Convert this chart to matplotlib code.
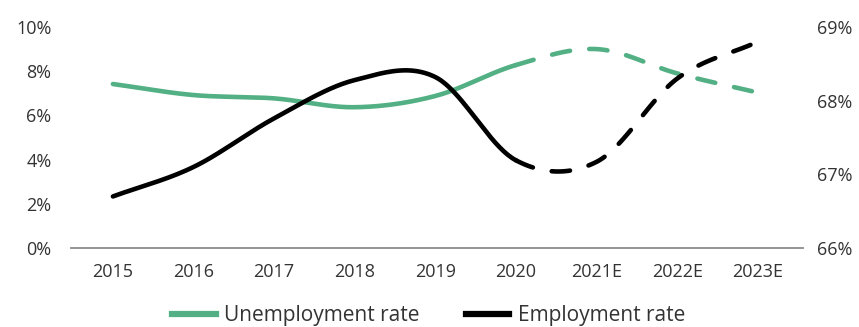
import numpy as np
import matplotlib.pyplot as plt
from matplotlib.lines import Line2D

years = ['2015', '2016', '2017', '2018', '2019', '2020', '2021E', '2022E', '2023E']
unemployment = [7.42, 6.92, 6.77, 6.37, 6.88, 8.28, 9.0, 7.9, 7.03]
employment = [66.70, 67.10, 67.76, 68.28, 68.32, 67.19, 67.17, 68.30, 68.80]
last_actual = 5  # index of 2020, forecasts after this

GREEN = '#52b084'
BLACK = '#000000'
TEXT = '#333333'


def smooth(x, y, n=40):
    # Excel-like smoothed line (Catmull-Rom through the points)
    x = np.asarray(x, float)
    y = np.asarray(y, float)
    xs, ys = [], []
    for i in range(len(x) - 1):
        m0 = (y[i + 1] - y[max(i - 1, 0)]) / (x[i + 1] - x[max(i - 1, 0)]) * (x[i + 1] - x[i])
        m1 = (y[min(i + 2, len(x) - 1)] - y[i]) / (x[min(i + 2, len(x) - 1)] - x[i]) * (x[i + 1] - x[i])
        t = np.linspace(0, 1, n)
        h00 = 2 * t**3 - 3 * t**2 + 1
        h10 = t**3 - 2 * t**2 + t
        h01 = -2 * t**3 + 3 * t**2
        h11 = t**3 - t**2
        xs.append(x[i] + t * (x[i + 1] - x[i]))
        ys.append(h00 * y[i] + h10 * m0 + h01 * y[i + 1] + h11 * m1)
    return np.concatenate(xs), np.concatenate(ys), n


def draw(ax, values, color):
    xs, ys, n = smooth(range(len(values)), values)
    cut = last_actual * n
    ax.plot(xs[:cut], ys[:cut], color=color, lw=3.3, solid_capstyle='round')
    ax.plot(xs[cut - 1:], ys[cut - 1:], color=color, lw=3.3,
            dashes=(4.0, 4.2), dash_capstyle='round')


plt.rcParams['font.family'] = ['Open Sans', 'DejaVu Sans']

fig = plt.figure(figsize=(8.59, 3.27), dpi=100)
ax = fig.add_axes([71 / 859, 79 / 327, 732 / 859, 221 / 327])
ax2 = ax.twinx()

draw(ax, unemployment, GREEN)
draw(ax2, employment, BLACK)

ax.set_xlim(-0.52, 8.56)
ax.set_ylim(0, 10)
ax2.set_ylim(66, 69)
ax.set_xticks(range(len(years)))
ax.set_xticklabels(years)
ax.set_yticks(range(0, 11, 2))
ax.set_yticklabels([f'{v}%' for v in range(0, 11, 2)])
ax2.set_yticks([66, 67, 68, 69])
ax2.set_yticklabels([f'{v}%' for v in [66, 67, 68, 69]])

for a in (ax, ax2):
    for s in ['top', 'left', 'right', 'bottom']:
        a.spines[s].set_visible(False)
    a.tick_params(length=0, labelsize=13, labelcolor=TEXT)
ax.spines['bottom'].set_visible(True)
ax.spines['bottom'].set_color('#8c8c8c')
ax.spines['bottom'].set_linewidth(1.3)
ax.tick_params(axis='y', pad=14)
ax.tick_params(axis='x', pad=11)
ax2.tick_params(axis='y', pad=10)

handles = [Line2D([], [], color=GREEN, lw=4.5),
           Line2D([], [], color=BLACK, lw=4.5)]
fig.legend(handles, ['Unemployment rate', 'Employment rate'], loc='center',
           bbox_to_anchor=(0.499, 0.035), ncol=2, frameon=False,
           fontsize=15, labelcolor=TEXT, handlelength=2.1,
           handletextpad=0.4, columnspacing=2.2)

fig.savefig('out.png', dpi=100)
